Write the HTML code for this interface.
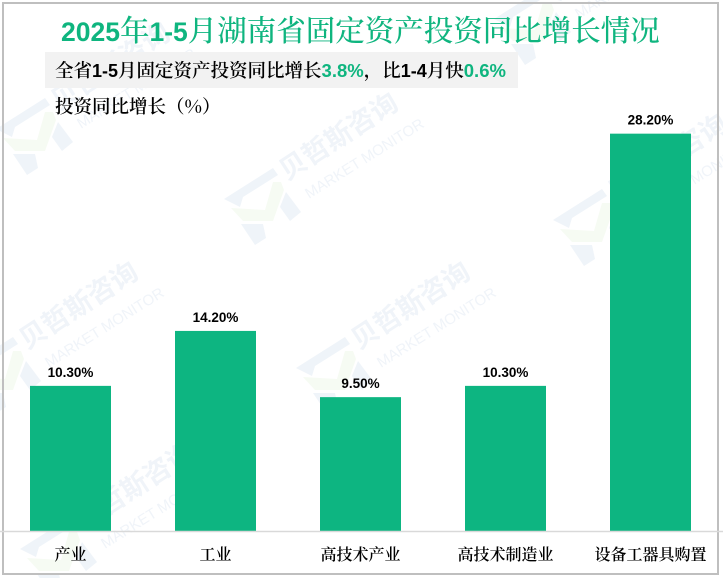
<!DOCTYPE html>
<html lang="zh-CN">
<head>
<meta charset="utf-8">
<title>2025年1-5月湖南省固定资产投资同比增长情况</title>
<style>
html,body{margin:0;padding:0;background:#fff;}
#chart-root{position:relative;width:723px;height:578px;overflow:hidden;background:#fff;font-family:"Liberation Sans","Noto Serif CJK SC",serif;}
svg{position:absolute;left:0;top:0;}
</style>
</head>
<body>
<div id="chart-root">
<svg id="chart" width="723" height="578" viewBox="0 0 723 578" xmlns="http://www.w3.org/2000/svg">
  <g id="watermarks"></g>
  <rect x="3" y="3" width="715" height="571" fill="none" stroke="#bfbfbf" stroke-width="2"/>
  <text x="61" y="41" fill="#0fb57f" font-size="29.5" font-family="'Noto Serif CJK SC',serif" font-weight="500"><tspan font-family="'Liberation Sans',sans-serif" font-weight="700" font-size="26.5">2025</tspan>年<tspan font-family="'Liberation Sans',sans-serif" font-weight="700" font-size="26.5">1-5</tspan>月湖南省固定资产投资同比增长情况</text>
  <rect x="45" y="52" width="473" height="36" fill="#f2f2f2"/>
  <text x="55" y="77" fill="#000" font-size="18.5" font-family="'Noto Serif CJK SC',serif" font-weight="600">全省<tspan font-family="'Liberation Sans',sans-serif" font-weight="700" font-size="18">1-5</tspan>月固定资产投资同比增长<tspan fill="#0fb57f" font-family="'Liberation Sans',sans-serif" font-weight="700" font-size="18.5">3.8%</tspan>，比<tspan font-family="'Liberation Sans',sans-serif" font-weight="700" font-size="18">1-4</tspan>月快<tspan fill="#0fb57f" font-family="'Liberation Sans',sans-serif" font-weight="700" font-size="18.5">0.6%</tspan></text>
  <text x="55" y="113" fill="#000" font-size="18.5" font-family="'Noto Serif CJK SC',serif" font-weight="600">投资同比增长（%）</text>
  <g id="bars"></g>
  <g id="bar-labels"></g>
  <line x1="0" y1="531.5" x2="723" y2="531.5" stroke="#d9d9d9" stroke-width="1.5"/>
  <g id="x-labels"></g>
</svg>
</div>
<script>
const categories = ["产业", "工业", "高技术产业", "高技术制造业", "设备工器具购置"];
const growthValues = [10.3, 14.2, 9.5, 10.3, 28.2];
const valueLabels = ["10.30%", "14.20%", "9.50%", "10.30%", "28.20%"];

const NS = "http://www.w3.org/2000/svg";
const BASELINE = 531;
const PX_PER_UNIT = 14.09;
const BAND_START = 30;
const BAND_STEP = 145;
const BAR_WIDTH = 81;

function xScale(i) { return BAND_START + i * BAND_STEP; }
function yScale(v) { return BASELINE - v * PX_PER_UNIT; }

const barsG = document.getElementById("bars");
const labelsG = document.getElementById("bar-labels");
const xLabelsG = document.getElementById("x-labels");

categories.forEach(function (cat, i) {
  const v = growthValues[i];
  const top = yScale(v);

  const bar = document.createElementNS(NS, "rect");
  bar.setAttribute("x", xScale(i));
  bar.setAttribute("y", top);
  bar.setAttribute("width", BAR_WIDTH);
  bar.setAttribute("height", BASELINE - top);
  bar.setAttribute("fill", "#0db581");
  
  
  barsG.appendChild(bar);

  const lab = document.createElementNS(NS, "text");
  lab.setAttribute("x", xScale(i) + BAR_WIDTH / 2);
  lab.setAttribute("y", top - 9);
  lab.setAttribute("text-anchor", "middle");
  lab.setAttribute("font-size", "13.5");
  lab.setAttribute("font-weight", "700");
  lab.setAttribute("font-family", "'Liberation Sans',sans-serif");
  lab.setAttribute("fill", "#000");
  
  
  lab.textContent = valueLabels[i];
  labelsG.appendChild(lab);

  const xl = document.createElementNS(NS, "text");
  xl.setAttribute("x", xScale(i) + BAR_WIDTH / 2);
  xl.setAttribute("y", 560);
  xl.setAttribute("text-anchor", "middle");
  xl.setAttribute("font-size", "16");
  xl.setAttribute("font-weight", "600");
  xl.setAttribute("font-family", "'Noto Serif CJK SC',serif");
  xl.setAttribute("fill", "#000");
  
  
  xl.textContent = cat;
  xLabelsG.appendChild(xl);
});

/* Faint repeating brand watermark */
const wmLayer = document.getElementById("watermarks");
const wmAnchors = [[35,135],[263,205],[533,25],[592,226],[3,374],[335,374],[59,555]];
const logoBlue = [
  "10,-37 15,-30 -20,-8 -23,2 -39,-6",
  "23,-13 38,7 27,16 17,2",
  "-22,19 0,19 3,33 -8,40"
];
const logoGreen = "-32,3 2,5 10,-23 18,-23 21,-15 10,16 -20,16";

wmAnchors.forEach(function (p) {
  const g = document.createElementNS(NS, "g");
  g.setAttribute("transform", "translate(" + p[0] + "," + p[1] + ")");
  
  

  logoBlue.forEach(function (pts) {
    const s = document.createElementNS(NS, "polygon");
    s.setAttribute("points", pts);
    s.setAttribute("fill", "#eff4f9");
    
    
    g.appendChild(s);
  });
  const gr = document.createElementNS(NS, "polygon");
  gr.setAttribute("points", logoGreen);
  gr.setAttribute("fill", "#f6fbf3");
  
  
  g.appendChild(gr);

  const t1 = document.createElementNS(NS, "text");
  t1.setAttribute("transform", "translate(24,-24) rotate(-33)");
  t1.setAttribute("font-size", "27");
  t1.setAttribute("font-weight", "700");
  t1.setAttribute("font-family", "'Noto Sans CJK SC',sans-serif");
  t1.setAttribute("fill", "#f0f4f9");
  
  
  t1.textContent = "贝哲斯咨询";
  g.appendChild(t1);

  const t2 = document.createElementNS(NS, "text");
  t2.setAttribute("transform", "translate(46,-6) rotate(-32)");
  t2.setAttribute("font-size", "15");
  t2.setAttribute("font-family", "'Liberation Sans',sans-serif");
  t2.setAttribute("fill", "#f0f4f9");
  
  
  t2.textContent = "MARKET MONITOR";
  g.appendChild(t2);

  wmLayer.appendChild(g);
});
</script>
</body>
</html>
